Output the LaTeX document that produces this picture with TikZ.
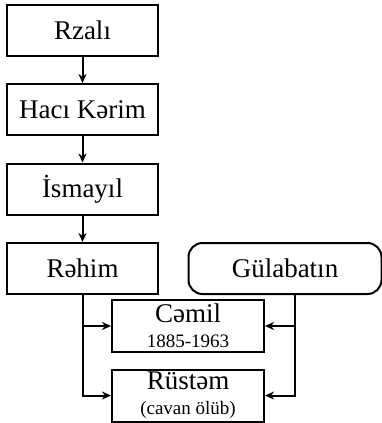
\documentclass[tikz,border=0pt]{standalone}
\usepackage{fontspec}
\setmainfont{Liberation Serif}
\usetikzlibrary{arrows.meta,positioning,calc}

\begin{document}
\begin{tikzpicture}[x=1pt, y=1pt, node distance=26.5pt,
  every node/.style={font=\fontsize{27}{30}\selectfont},
  personbox/.style={draw, line width=2pt, minimum width=151pt, minimum height=51pt, inner sep=0pt, align=center},
  link/.style={line width=2pt, -{Stealth[length=9pt,width=8pt]}}]
  \useasboundingbox (0,0) rectangle (382,-423);
  % paternal line
  \node[personbox] (rzali) at (82.5,-30) {Rzalı};
  \node[personbox, below=of rzali] (kerim) {Hacı Kərim};
  \node[personbox, below=of kerim] (ismayil) {İsmayıl};
  \node[personbox, below=of ismayil] (rahim) {Rəhim};
  \node[personbox, rounded corners=14pt, minimum width=193pt, right=28.5pt of rahim] (gul) {Gülabatın};
  \draw[link] (rzali) -- (kerim);
  \draw[link] (kerim) -- (ismayil);
  \draw[link] (ismayil) -- (rahim);
  % children
  \node[personbox, minimum width=152pt, minimum height=52pt] (cemil) at (188,-326) {Cəmil\\[-5pt]{\fontsize{19}{21}\selectfont 1885-1963}};
  \node[personbox, minimum width=152pt, minimum height=52pt] (rustam) at (188,-395.5) {Rüstəm\\[-5pt]{\fontsize{19}{21}\selectfont (cavan ölüb)}};
  \coordinate (rtrunk) at ($(gul.south)+(9.5,0)$);
  \draw[link] (rahim.south) |- (rustam.west);
  \draw[link] (rahim.south |- cemil.west) -- (cemil.west);
  \draw[link] (rtrunk) |- (rustam.east);
  \draw[link] (rtrunk |- cemil.east) -- (cemil.east);
\end{tikzpicture}
\end{document}
